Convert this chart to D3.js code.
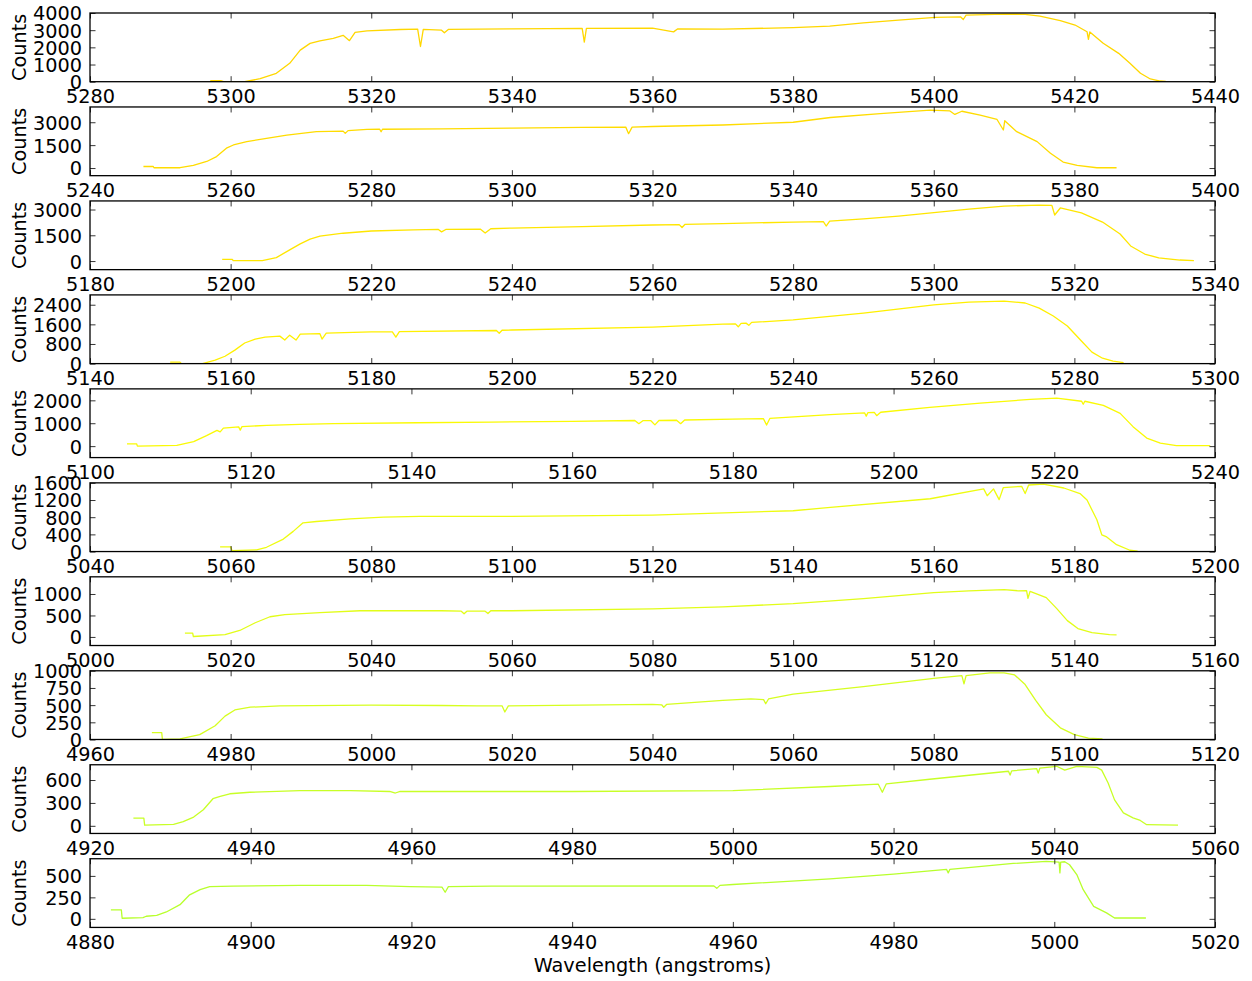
<!DOCTYPE html>
<html>
<head>
<meta charset="utf-8">
<script src="https://cdn.jsdelivr.net/npm/d3@7"></script>
<style>
  html, body { margin: 0; padding: 0; background: #fff; }
  svg { display: block; }
  text { font-family: "DejaVu Sans", sans-serif; fill: #000; }
</style>
</head>
<body>
<svg id="chart" width="1252" height="981"></svg>
<script>
// Echelle orders, reddest first: [wavelength (Å), counts]
const order1 = [[5297.1,60],[5298.6,60],[5299,0],[5302,0],[5304.2,175],[5306.5,490],[5308.4,1070],[5309.9,1840],[5311.3,2230],[5312.7,2380],[5314.6,2520],[5316,2700],[5316.9,2390],[5317.7,2870],[5319.4,2960],[5324.1,3040],[5326.6,3060],[5327,2050],[5327.4,3050],[5330,3000],[5330.4,2850],[5331,3050],[5340,3080],[5350,3100],[5350.3,2300],[5350.6,3100],[5360,3120],[5363,2900],[5363.6,3080],[5370,3060],[5380,3150],[5385.2,3240],[5390,3420],[5395,3580],[5400.2,3750],[5403.8,3780],[5404.2,3620],[5404.6,3880],[5410,3940],[5413,3920],[5415.1,3820],[5418,3550],[5420.1,3300],[5421.8,2910],[5422,2470],[5422.2,2900],[5424.1,2240],[5426.3,1650],[5427.9,1070],[5429.4,490],[5430.8,160],[5432.2,40],[5433,20]];
const order2 = [[5247.6,100],[5249,100],[5249.1,20],[5252.8,20],[5254.7,170],[5256.6,430],[5258,750],[5259.4,1300],[5260.4,1510],[5262.3,1730],[5265.1,1950],[5268,2160],[5272.2,2380],[5276,2420],[5276.3,2270],[5276.7,2450],[5279.4,2530],[5281.2,2540],[5281.4,2380],[5281.6,2540],[5290,2560],[5300,2620],[5310,2660],[5316.2,2680],[5316.6,2250],[5317.1,2680],[5320,2720],[5330,2820],[5340,3000],[5345.3,3310],[5352.4,3570],[5359.5,3790],[5362.3,3740],[5363,3510],[5364,3720],[5366.6,3460],[5369,3180],[5369.9,2490],[5370.1,3100],[5371.8,2380],[5374.7,1730],[5376.6,970],[5378.4,390],[5380.4,170],[5383.2,20],[5386,20]];
const order3 = [[5198.8,100],[5200.2,100],[5200.4,20],[5204.5,20],[5206.5,200],[5208.4,650],[5209.9,1000],[5211.3,1280],[5212.7,1450],[5216,1620],[5220,1750],[5226,1820],[5229.5,1850],[5230,1700],[5230.6,1840],[5235.5,1860],[5236.2,1630],[5237,1880],[5240,1920],[5250,2000],[5260,2100],[5263.8,2120],[5264.2,1950],[5264.6,2130],[5270,2180],[5280,2270],[5284.3,2300],[5284.7,2040],[5285.2,2320],[5290,2450],[5295,2620],[5300,2820],[5305,3020],[5310,3200],[5315,3260],[5316.8,3240],[5317.2,2680],[5318,3090],[5321,2800],[5324,2270],[5326.5,1575],[5328,880],[5330,410],[5332,180],[5335,60],[5337,30]];
const order4 = [[5151.4,60],[5152.8,60],[5153,0],[5156,0],[5157.8,140],[5159.2,300],[5160.6,550],[5162,840],[5163.5,1000],[5164.9,1080],[5167,1120],[5167.7,960],[5168.4,1160],[5169.3,960],[5169.9,1200],[5172.7,1220],[5173,1000],[5173.6,1240],[5180,1290],[5183,1290],[5183.5,1080],[5184,1300],[5197.8,1350],[5198.2,1240],[5198.6,1360],[5200,1370],[5220,1490],[5230,1610],[5231.8,1620],[5232.2,1500],[5232.6,1640],[5233.3,1650],[5233.7,1560],[5234.1,1680],[5240,1780],[5250,2060],[5260,2390],[5265,2510],[5270,2550],[5273,2470],[5275,2260],[5277,1940],[5279,1530],[5281,920],[5282.5,470],[5284,220],[5285.5,100],[5287,40]];
const order5 = [[5104.6,100],[5105.8,100],[5105.9,0],[5110.8,30],[5112.9,200],[5114.5,460],[5115.8,690],[5116.2,620],[5116.6,790],[5118.5,840],[5118.7,700],[5118.9,850],[5122,910],[5126.1,950],[5130.3,980],[5140.7,1020],[5150,1050],[5160,1080],[5167.8,1120],[5168.3,980],[5168.8,1110],[5169.8,1110],[5170.3,930],[5170.8,1120],[5173,1130],[5173.5,980],[5174,1140],[5180,1180],[5183.8,1200],[5184.2,920],[5184.6,1210],[5192.1,1380],[5196.4,1450],[5196.6,1310],[5196.8,1460],[5197.6,1470],[5197.9,1330],[5198.4,1480],[5204.5,1690],[5210.8,1880],[5217,2040],[5220.3,2100],[5223.4,1960],[5223.6,1830],[5223.8,1960],[5226.1,1780],[5228.2,1430],[5229.8,850],[5231.5,350],[5233.2,130],[5235.2,20],[5239.4,20]];
const order6 = [[5058.5,110],[5060,110],[5060.2,20],[5063.7,40],[5065.1,100],[5067.5,290],[5068.9,470],[5070.3,670],[5072.2,700],[5077,760],[5081.7,800],[5086.9,820],[5100,820],[5120,850],[5140,950],[5145.3,1030],[5159.5,1230],[5167.1,1460],[5167.6,1300],[5168.5,1460],[5169.3,1210],[5169.9,1490],[5172.5,1520],[5173,1350],[5173.5,1550],[5175.6,1570],[5178.5,1480],[5180.8,1350],[5181.8,1200],[5183.2,740],[5183.9,390],[5184.6,340],[5186,160],[5187.9,30],[5189,10]];
const order7 = [[5013.5,90],[5014.6,90],[5014.7,10],[5019.2,55],[5021.3,150],[5023.5,330],[5025.6,470],[5027.7,520],[5032.7,565],[5038.4,610],[5050,610],[5052.8,600],[5053.2,540],[5053.6,600],[5056.2,600],[5056.6,545],[5057,610],[5060,610],[5080,655],[5090,700],[5100,775],[5110,890],[5115,960],[5120,1030],[5125,1075],[5130,1100],[5132,1075],[5133.2,1080],[5133.4,900],[5133.7,1060],[5136,915],[5137.5,660],[5139,380],[5140.5,195],[5142.5,100],[5145,55],[5146,50]];
const order8 = [[4968.8,100],[4970.2,100],[4970.3,0],[4972.8,10],[4975.6,70],[4977.8,200],[4979.2,340],[4980.6,430],[4982.8,470],[4987,490],[5000,500],[5010,495],[5015,490],[5018.6,490],[5019,400],[5019.5,490],[5040,510],[5041.3,505],[5041.6,470],[5042,510],[5050,570],[5054,590],[5055.8,580],[5056.1,520],[5056.5,590],[5060,660],[5070,770],[5080,890],[5084,930],[5084.3,810],[5084.6,930],[5088,970],[5090,970],[5091.5,940],[5093,800],[5094.5,570],[5096,360],[5098,170],[5100,70],[5102,20],[5104,10]];
const order9 = [[4925.4,100],[4926.7,100],[4926.8,10],[4930.4,20],[4931.6,55],[4932.9,115],[4934.1,210],[4935.3,355],[4936.2,385],[4937.4,420],[4939.9,440],[4946.1,460],[4952.4,460],[4957.3,450],[4958,430],[4958.6,450],[4980,450],[5000,460],[5012.1,515],[5018.1,545],[5018.6,440],[5019.1,550],[5024.5,610],[5034.3,715],[5034.5,665],[5034.7,720],[5037.8,750],[5038,690],[5038.2,755],[5040.3,780],[5041.3,730],[5042.8,780],[5045.3,765],[5045.9,730],[5046.7,560],[5047.5,340],[5048.6,170],[5049.8,105],[5050.7,70],[5051.5,15],[5055.4,10]];
const order10 = [[4882.6,105],[4883.9,105],[4884,7],[4886.6,15],[4887,30],[4888.3,40],[4889.5,80],[4891.2,165],[4892.4,280],[4893.7,340],[4894.9,375],[4897.8,380],[4906.1,390],[4914.4,390],[4919.8,375],[4923.8,370],[4924.2,310],[4924.6,375],[4930,380],[4957.6,385],[4958,355],[4958.4,390],[4960,400],[4972.1,465],[4980,520],[4986.6,575],[4986.8,535],[4987,575],[4994.9,645],[4999,670],[5000.6,660],[5000.7,535],[5000.8,660],[5001.3,665],[5001.9,630],[5002.8,515],[5003.6,340],[5004.9,145],[5006.5,70],[5007.5,10],[5011.4,10]];

const orders = [order1, order2, order3, order4, order5, order6, order7, order8, order9, order10];

// Axis limits and ticks per order
const xDomains = [[5280,5440],[5240,5400],[5180,5340],[5140,5300],[5100,5240],[5040,5200],[5000,5160],[4960,5120],[4920,5060],[4880,5020]];
const yDomains = [[0,4000],[-500,4000],[-500,3500],[0,2800],[-500,2500],[0,1600],[-200,1400],[0,1000],[-100,800],[-100,700]];
const yTicks = [[0,1000,2000,3000,4000],[0,1500,3000],[0,1500,3000],[0,800,1600,2400],[0,1000,2000],[0,400,800,1200,1600],[0,500,1000],[0,250,500,750,1000],[0,300,600],[0,250,500]];
const lineColors = ["#ffd700","#ffdc00","#ffe600","#fff000","#fafa05","#eefc10","#e2fd18","#d6fe20","#c8ff26","#b8ff2c"];

const svg = d3.select("#chart");
const left = 90, plotW = 1125, firstTop = 13, pitch = 93.97, plotH = 68.7;
const fontSize = 19.3;
const tickLen = 5.5;

function styleTicks(sel) {
  sel.select(".domain").remove();
  sel.selectAll("line").attr("stroke", "#000").attr("stroke-width", 0.8);
}

orders.forEach((data, i) => {
  const top = firstTop + pitch * i;
  const x = d3.scaleLinear().domain(xDomains[i]).range([left, left + plotW]);
  const y = d3.scaleLinear().domain(yDomains[i]).range([top + plotH, top]);
  const xt = d3.range(xDomains[i][0], xDomains[i][1] + 1, 20);

  const g = svg.append("g");

  g.append("clipPath").attr("id", "clip" + i)
    .append("rect").attr("x", left).attr("y", top).attr("width", plotW).attr("height", plotH);

  // spectrum
  g.append("path")
    .datum(data)
    .attr("clip-path", `url(#clip${i})`)
    .attr("fill", "none")
    .attr("stroke", lineColors[i])
    .attr("stroke-width", 1.3)
    .attr("stroke-linejoin", "round")
    .attr("d", d3.line().x(d => x(d[0])).y(d => y(d[1])));

  // bottom axis with labels, inward ticks
  const bottom = g.append("g").attr("transform", `translate(0,${top + plotH})`)
    .call(d3.axisBottom(x).tickValues(xt).tickSizeInner(-tickLen).tickSizeOuter(0).tickFormat(d3.format("d")));
  styleTicks(bottom);
  bottom.selectAll("text")
    .attr("y", 21.6).attr("dy", null)
    .attr("font-size", fontSize).attr("font-family", "DejaVu Sans").attr("fill", "#000");

  // top axis ticks only
  const topAx = g.append("g").attr("transform", `translate(0,${top})`)
    .call(d3.axisTop(x).tickValues(xt).tickSizeInner(-tickLen).tickSizeOuter(0).tickFormat(""));
  styleTicks(topAx);

  // left axis with labels
  const leftAx = g.append("g").attr("transform", `translate(${left},0)`)
    .call(d3.axisLeft(y).tickValues(yTicks[i]).tickSizeInner(-tickLen).tickSizeOuter(0).tickFormat(d3.format("d")));
  styleTicks(leftAx);
  leftAx.selectAll("text")
    .attr("x", -8).attr("dy", "0.36em")
    .attr("font-size", fontSize).attr("font-family", "DejaVu Sans").attr("fill", "#000");

  // right axis ticks only
  const rightAx = g.append("g").attr("transform", `translate(${left + plotW},0)`)
    .call(d3.axisRight(y).tickValues(yTicks[i]).tickSizeInner(-tickLen).tickSizeOuter(0).tickFormat(""));
  styleTicks(rightAx);

  // frame
  g.append("rect")
    .attr("x", left).attr("y", top).attr("width", plotW).attr("height", plotH)
    .attr("fill", "none").attr("stroke", "#000").attr("stroke-width", 1.3);

  // y label
  g.append("text")
    .attr("transform", `translate(${26},${top + plotH / 2}) rotate(-90)`)
    .attr("text-anchor", "middle")
    .attr("font-size", fontSize)
    .text("Counts");
});

svg.append("text")
  .attr("x", left + plotW / 2)
  .attr("y", 972)
  .attr("text-anchor", "middle")
  .attr("font-size", fontSize)
  .text("Wavelength (angstroms)");
</script>
</body>
</html>
